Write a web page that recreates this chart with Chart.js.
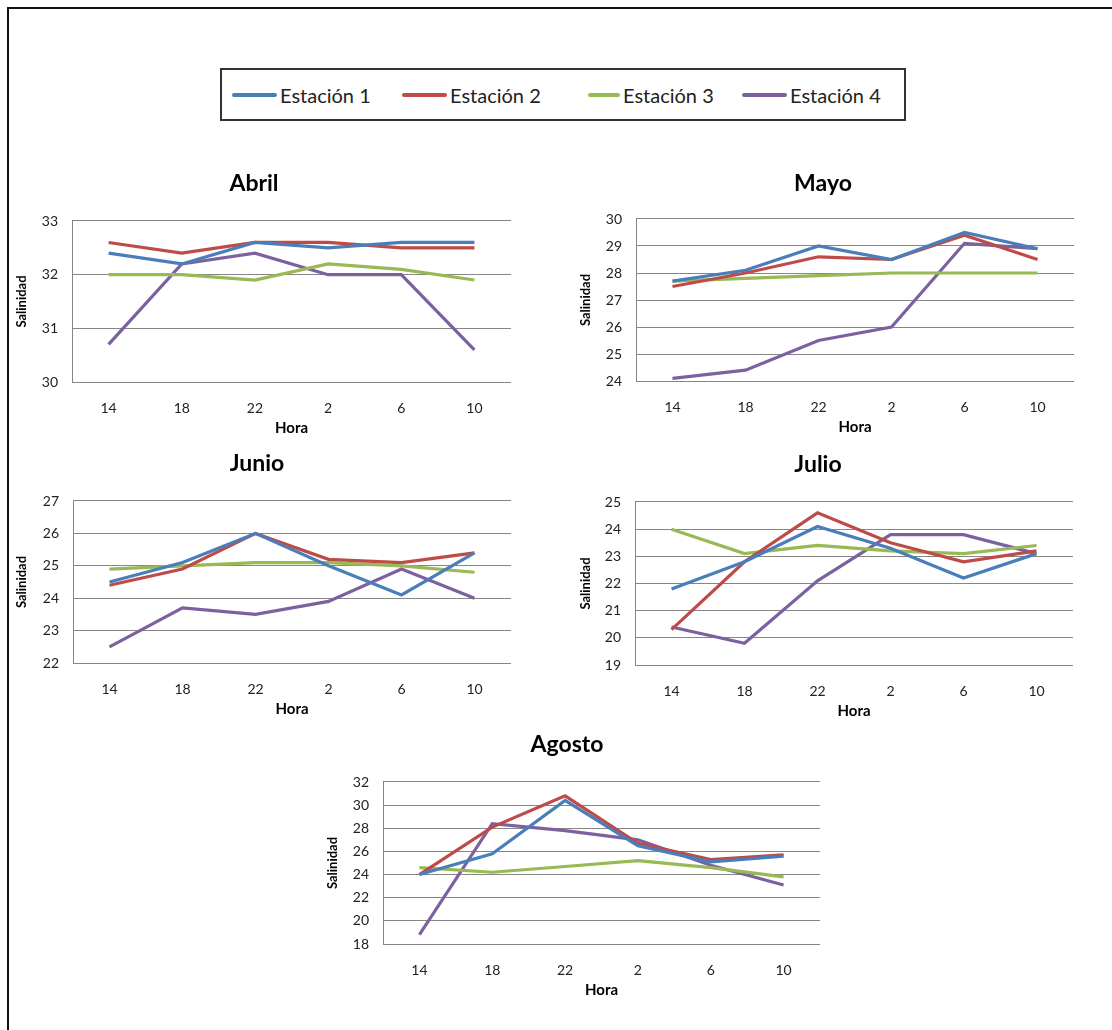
<!DOCTYPE html>
<html>
<head>
<meta charset="utf-8">
<title>Salinidad por estación</title>
<script src="https://cdn.jsdelivr.net/npm/chart.js@4.4.1/dist/chart.umd.min.js"></script>
<style>
    body {
        margin: 0;
        width: 1112px;
        height: 1030px;
        position: relative;
        overflow: hidden;
        background: #fff;
        font-family: Lato, "Noto Sans", sans-serif;
    }
    #marco {
        position: absolute;
        left: 7px;
        top: 7px;
        width: 1120px;
        height: 1040px;
        border-top: 2px solid #111;
        border-left: 2px solid #111;
    }
    #leyenda {
        position: absolute;
        left: 220px;
        top: 68px;
        width: 682px;
        height: 49px;
        border: 2px solid #333;
        background: #fff;
    }
    .item {
        position: absolute;
        top: 0;
        height: 49px;
        display: flex;
        align-items: center;
        font-size: 20px;
        color: #222;
        white-space: nowrap;
    }
    .muestra {
        height: 4px;
        margin-right: 3px;
        border-radius: 2px;
    }
    .graf { position: absolute; }
</style>
</head>
<body>
<div id="marco"></div>
<div id="leyenda"></div>

<script>
// categorías y series
const horas = ['14', '18', '22', '2', '6', '10'];
const estaciones = ['Estación 1', 'Estación 2', 'Estación 3', 'Estación 4'];
const meses = ['Abril', 'Mayo', 'Junio', 'Julio', 'Agosto'];

const abrilE1 = [32.4, 32.2, 32.6, 32.5, 32.6, 32.6];
const abrilE2 = [32.6, 32.4, 32.6, 32.6, 32.5, 32.5];
const abrilE3 = [32.0, 32.0, 31.9, 32.2, 32.1, 31.9];
const abrilE4 = [30.7, 32.2, 32.4, 32.0, 32.0, 30.6];

const mayoE1 = [27.7, 28.1, 29.0, 28.5, 29.5, 28.9];
const mayoE2 = [27.5, 28.0, 28.6, 28.5, 29.4, 28.5];
const mayoE3 = [27.7, 27.8, 27.9, 28.0, 28.0, 28.0];
const mayoE4 = [24.1, 24.4, 25.5, 26.0, 29.1, 28.9];

const junioE1 = [24.5, 25.1, 26.0, 25.0, 24.1, 25.4];
const junioE2 = [24.4, 24.9, 26.0, 25.2, 25.1, 25.4];
const junioE3 = [24.9, 25.0, 25.1, 25.1, 25.0, 24.8];
const junioE4 = [22.5, 23.7, 23.5, 23.9, 24.9, 24.0];

const julioE1 = [21.8, 22.8, 24.1, 23.3, 22.2, 23.1];
const julioE2 = [20.3, 22.8, 24.6, 23.5, 22.8, 23.2];
const julioE3 = [24.0, 23.1, 23.4, 23.2, 23.1, 23.4];
const julioE4 = [20.4, 19.8, 22.1, 23.8, 23.8, 23.1];

const agostoE1 = [24.0, 25.8, 30.4, 26.5, 25.1, 25.6];
const agostoE2 = [24.0, 28.1, 30.8, 26.7, 25.3, 25.7];
const agostoE3 = [24.6, 24.2, 24.7, 25.2, 24.6, 23.8];
const agostoE4 = [18.8, 28.4, 27.8, 27.0, 24.8, 23.1];

// escala del eje Y de cada mes
const yMin = [30, 24, 22, 19, 18];
const yMax = [33, 30, 27, 25, 32];
const yPaso = [1, 1, 1, 1, 2];

// estilo de las líneas (colores Excel 2007)
const colores = ['#4A7EBB', '#BE4B48', '#98B954', '#7D60A0'];
const muestraAncho = [45, 45, 32, 45];
const muestraLeft = [10, 180, 366, 520];

// área de trazado de cada gráfico en la página (L, R, T, B), centro del título y del rótulo Y
const cajas = [
    { L: 72,  R: 505,  T: 221, B: 382, tx: 254, ty: 37, sx: 22 },
    { L: 636, R: 1068, T: 219, B: 381, tx: 823, ty: 35, sx: 586 },
    { L: 73,  R: 505,  T: 501, B: 663, tx: 257, ty: 37, sx: 22 },
    { L: 635, R: 1067, T: 502, B: 665, tx: 818, ty: 37, sx: 586 },
    { L: 383, R: 814,  T: 782, B: 944, tx: 567, ty: 37, sx: 333 }
];

const series = [
    [abrilE1, abrilE2, abrilE3, abrilE4],
    [mayoE1, mayoE2, mayoE3, mayoE4],
    [junioE1, junioE2, junioE3, junioE4],
    [julioE1, julioE2, julioE3, julioE4],
    [agostoE1, agostoE2, agostoE3, agostoE4]
];

Chart.defaults.font.family = 'Lato, "Noto Sans", sans-serif';

const GRIS = '#868686';
const ALTO_TITULO = 56;
const ALTO_EJE_X = 60;

// leyenda común
const leyenda = document.getElementById('leyenda');
estaciones.forEach((nombre, k) => {
    const item = document.createElement('div');
    item.className = 'item';
    item.style.left = muestraLeft[k] + 'px';
    const m = document.createElement('span');
    m.className = 'muestra';
    m.style.width = muestraAncho[k] + 'px';
    m.style.background = colores[k];
    item.appendChild(m);
    item.appendChild(document.createTextNode(nombre));
    leyenda.appendChild(item);
});

function crearGrafico(i) {
    const c = cajas[i];
    const right = c.R + 6;
    const left = 2 * c.tx - right; // el título queda centrado en el lienzo
    const anchoEjeY = c.L - left;
    const alto = ALTO_TITULO + (c.B - c.T) + ALTO_EJE_X;

    const div = document.createElement('div');
    div.className = 'graf';
    div.style.left = left + 'px';
    div.style.top = (c.T - ALTO_TITULO) + 'px';
    div.style.width = (right - left) + 'px';
    div.style.height = alto + 'px';
    const canvas = document.createElement('canvas');
    div.appendChild(canvas);
    document.body.appendChild(div);

    const padTitulo = ALTO_TITULO - c.ty - 13.8;

    new Chart(canvas, {
        type: 'line',
        data: {
            labels: horas,
            datasets: series[i].map((d, k) => ({
                label: estaciones[k],
                data: d,
                borderColor: colores[k],
                backgroundColor: colores[k],
                borderWidth: 3.2,
                pointRadius: 0,
                tension: 0,
                fill: false
            }))
        },
        options: {
            responsive: true,
            maintainAspectRatio: false,
            animation: false,
            layout: { padding: 0 },
            plugins: {
                legend: { display: false },
                tooltip: { enabled: false },
                title: {
                    display: true,
                    text: meses[i],
                    color: '#000',
                    font: { size: 23, weight: 'bold', lineHeight: 1.2 },
                    padding: { top: padTitulo, bottom: ALTO_TITULO - padTitulo - 27.6 }
                }
            },
            scales: {
                x: {
                    offset: true,
                    grid: { display: false, drawTicks: false },
                    border: { color: GRIS },
                    ticks: { color: '#222', font: { size: 14 }, padding: 18, maxRotation: 0 },
                    title: {
                        display: true,
                        text: 'Hora',
                        color: '#000',
                        font: { size: 15, weight: 'bold', lineHeight: 1.2 },
                        padding: { top: 0, bottom: 5 }
                    },
                    afterFit: (s) => { s.height = ALTO_EJE_X; }
                },
                y: {
                    min: yMin[i],
                    max: yMax[i],
                    grid: { color: GRIS, drawTicks: false },
                    border: { color: GRIS },
                    ticks: { stepSize: yPaso[i], color: '#222', font: { size: 14 }, padding: 14 },
                    title: {
                        display: true,
                        text: 'Salinidad',
                        color: '#000',
                        font: { size: 13, weight: 'bold', lineHeight: 1.2 },
                        padding: { top: c.sx - left - 7.8, bottom: 0 }
                    },
                    afterFit: (s) => { s.width = anchoEjeY; }
                }
            }
        }
    });
}

meses.forEach((m, i) => crearGrafico(i));
</script>
</body>
</html>
